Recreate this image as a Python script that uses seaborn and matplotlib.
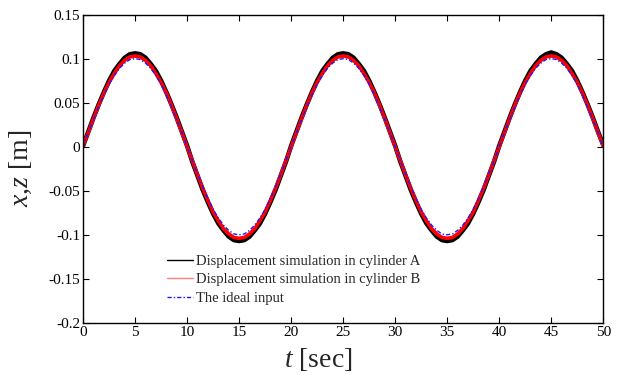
import numpy as np
import pandas as pd
import matplotlib
matplotlib.use("Agg")
import matplotlib.pyplot as plt
from matplotlib.lines import Line2D
import seaborn as sns

# Time samples [sec], every 0.5 s
t = [i * 0.5 for i in range(101)]

# Displacement of cylinder A [m]
cyl_a = [0.001, 0.017, 0.033, 0.048, 0.062, 0.075, 0.086, 0.094, 0.101, 0.105,
         0.106, 0.105, 0.101, 0.094, 0.086, 0.075, 0.062, 0.048, 0.033, 0.017,
         0.001, -0.017, -0.033, -0.049, -0.063, -0.076, -0.087, -0.095, -0.102, -0.106,
         -0.107, -0.106, -0.102, -0.095, -0.087, -0.076, -0.063, -0.049, -0.033, -0.017,
         0.001, 0.017, 0.033, 0.048, 0.062, 0.075, 0.086, 0.094, 0.101, 0.105,
         0.106, 0.105, 0.101, 0.094, 0.086, 0.075, 0.062, 0.048, 0.033, 0.017,
         0.001, -0.017, -0.033, -0.049, -0.063, -0.076, -0.087, -0.095, -0.102, -0.106,
         -0.107, -0.106, -0.102, -0.095, -0.087, -0.076, -0.063, -0.049, -0.033, -0.017,
         0.001, 0.017, 0.033, 0.048, 0.062, 0.075, 0.086, 0.094, 0.101, 0.105,
         0.107, 0.105, 0.101, 0.094, 0.086, 0.075, 0.062, 0.048, 0.033, 0.017,
         0.002]

# Displacement of cylinder B [m]
cyl_b = [0.001, 0.016, 0.032, 0.047, 0.061, 0.073, 0.083, 0.092, 0.098, 0.102,
         0.103, 0.102, 0.098, 0.092, 0.083, 0.073, 0.061, 0.047, 0.032, 0.016,
         0.000, -0.016, -0.032, -0.047, -0.061, -0.074, -0.084, -0.093, -0.099, -0.103,
         -0.104, -0.103, -0.099, -0.093, -0.084, -0.074, -0.061, -0.047, -0.032, -0.016,
         0.000, 0.016, 0.032, 0.047, 0.061, 0.073, 0.083, 0.092, 0.098, 0.102,
         0.103, 0.102, 0.098, 0.092, 0.083, 0.073, 0.061, 0.047, 0.032, 0.016,
         0.000, -0.016, -0.032, -0.047, -0.061, -0.074, -0.084, -0.093, -0.099, -0.103,
         -0.104, -0.103, -0.099, -0.093, -0.084, -0.074, -0.061, -0.047, -0.032, -0.016,
         0.000, 0.016, 0.032, 0.047, 0.061, 0.073, 0.083, 0.092, 0.098, 0.102,
         0.103, 0.102, 0.098, 0.092, 0.083, 0.073, 0.061, 0.047, 0.032, 0.016,
         0.001]

# Ideal input [m]
ideal = [0.000, 0.016, 0.031, 0.045, 0.059, 0.071, 0.081, 0.089, 0.095, 0.099,
         0.100, 0.099, 0.095, 0.089, 0.081, 0.071, 0.059, 0.045, 0.031, 0.016,
         0.000, -0.016, -0.031, -0.045, -0.059, -0.071, -0.081, -0.089, -0.095, -0.099,
         -0.100, -0.099, -0.095, -0.089, -0.081, -0.071, -0.059, -0.045, -0.031, -0.016,
         0.000, 0.016, 0.031, 0.045, 0.059, 0.071, 0.081, 0.089, 0.095, 0.099,
         0.100, 0.099, 0.095, 0.089, 0.081, 0.071, 0.059, 0.045, 0.031, 0.016,
         0.000, -0.016, -0.031, -0.045, -0.059, -0.071, -0.081, -0.089, -0.095, -0.099,
         -0.100, -0.099, -0.095, -0.089, -0.081, -0.071, -0.059, -0.045, -0.031, -0.016,
         0.000, 0.016, 0.031, 0.045, 0.059, 0.071, 0.081, 0.089, 0.095, 0.099,
         0.100, 0.099, 0.095, 0.089, 0.081, 0.071, 0.059, 0.045, 0.031, 0.016,
         0.000]

labels = ["Displacement simulation in cylinder A",
          "Displacement simulation in cylinder B",
          "The ideal input"]
x_ticks = [0, 5, 10, 15, 20, 25, 30, 35, 40, 45, 50]
y_ticks = [-0.2, -0.15, -0.1, -0.05, 0, 0.05, 0.1, 0.15]
y_ticklabels = ["-0.2", "-0.15", "-0.1", "-0.05", "0", "0.05", "0.1", "0.15"]

df = pd.DataFrame({"t": t, "A": cyl_a, "B": cyl_b, "ideal": ideal})

sns.set_style("ticks")
plt.rcParams["font.family"] = ["Liberation Serif", "DejaVu Serif"]
plt.rcParams["mathtext.fontset"] = "custom"
plt.rcParams["mathtext.it"] = "Liberation Serif:italic"
plt.rcParams["mathtext.rm"] = "Liberation Serif"

fig = plt.figure(figsize=(6.2, 3.75), dpi=100)
ax = fig.add_axes([0.134, 0.139, 0.839, 0.822])

dash_dot = (0, (3, 1.5, 1, 1.5))
sns.lineplot(data=df, x="t", y="A", ax=ax, color="black", linewidth=3.3,
             solid_joinstyle="round")
sns.lineplot(data=df, x="t", y="B", ax=ax, color="#ff0000", linewidth=2.6,
             solid_joinstyle="round")
sns.lineplot(data=df, x="t", y="ideal", ax=ax, color="#1a1aff", linewidth=1.0,
             linestyle=dash_dot)

ax.set_xlim(0, 50)
ax.set_ylim(-0.2, 0.15)
ax.set_xticks(x_ticks)
ax.set_xticklabels([str(v) for v in x_ticks])
ax.set_yticks(y_ticks)
ax.set_yticklabels(y_ticklabels)
ax.tick_params(direction="in", length=4, width=0.8, labelsize=11,
               top=True, right=True, pad=2, colors="black")
for side in ["top", "right", "bottom", "left"]:
    ax.spines[side].set_visible(True)
    ax.spines[side].set_linewidth(1.0)
    ax.spines[side].set_color("black")

ax.set_xlabel(r"$t$ [sec]", fontsize=20, labelpad=0)
ax.set_ylabel(r"$x$,$z$ [m]", fontsize=20)
ax.xaxis.set_label_coords(0.452, -0.075)
ax.yaxis.set_label_coords(-0.095, 0.5)

handles = [Line2D([], [], color="black", linewidth=1.0),
           Line2D([], [], color="#ff8080", linewidth=1.0),
           Line2D([], [], color="#1a1aff", linewidth=1.0, linestyle=dash_dot)]
ax.legend(handles, labels, loc="lower left", bbox_to_anchor=(0.15, 0.04),
          frameon=False, fontsize=10.5, handlelength=1.8, handletextpad=0.2,
          labelspacing=0.35, borderaxespad=0)

fig.savefig("out.png", dpi=100)
